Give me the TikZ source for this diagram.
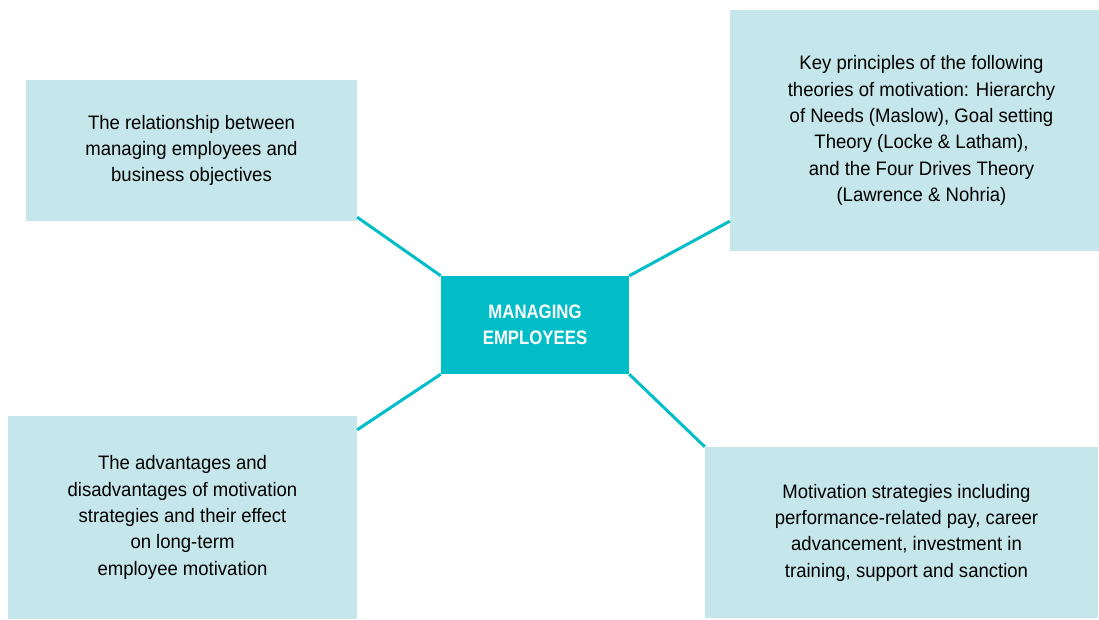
\documentclass[tikz,border=0pt]{standalone}
\usepackage{fontspec}
\setmainfont{Liberation Sans}[FakeStretch=0.95]
\newfontfamily\headfont{Liberation Sans}[FakeStretch=0.86]
\usetikzlibrary{positioning}
\definecolor{paleteal}{HTML}{C5E6EB}
\definecolor{deepteal}{HTML}{00BDC7}

\begin{document}
\begin{tikzpicture}[x=1pt, y=1pt,
  topic/.style = {rectangle, fill = paleteal, inner sep = 0pt, align = center,
                  font = \fontsize{19.5}{26.3}\selectfont},
  hub/.style   = {rectangle, fill = deepteal, inner sep = 0pt, align = center,
                  text = white, font = \headfont\bfseries\fontsize{19.5}{26}\selectfont},
  link/.style  = {draw = deepteal, line width = 3pt}]
  \useasboundingbox (0,0) rectangle (1099,-619);

  \node (hub) at (535,-325) [hub, minimum width = 188, minimum height = 98]
    {MANAGING\\EMPLOYEES};

  \node (rel)    at (191.5,-150.5) [topic, minimum width = 331, minimum height = 141]
    {The relationship between\\managing employees and\\business objectives};
  \node (theory) at (914.5,-130.5) [topic, minimum width = 369, minimum height = 241]
    {\hspace*{14pt}Key principles of the following\\\hspace*{14pt}theories of motivation: Hierarchy\\\hspace*{14pt}of Needs (Maslow), Goal setting\\\hspace*{14pt}Theory (Locke \& Latham),\\\hspace*{14pt}and the Four Drives Theory\\\hspace*{14pt}(Lawrence \& Nohria)};
  \node (pros)   at (182.5,-517.5) [topic, minimum width = 349, minimum height = 203]
    {The advantages and\\disadvantages of motivation\\strategies and their effect\\on long-term\\employee motivation};
  \node (strat)  at (901.5,-532.5) [topic, minimum width = 393, minimum height = 171]
    {\hspace*{10pt}Motivation strategies including\\\hspace*{10pt}performance-related pay, career\\\hspace*{10pt}advancement, investment in\\\hspace*{10pt}training, support and sanction};

  \draw [link] ([yshift=4pt]rel.south east) -- (hub.north west);
  \draw [link] (hub.north east) -- ([yshift=30pt]theory.south west);
  \draw [link] (hub.south west) -- ([yshift=-14pt]pros.north east);
  \draw [link] (hub.south east) -- (strat.north west);
\end{tikzpicture}
\end{document}
